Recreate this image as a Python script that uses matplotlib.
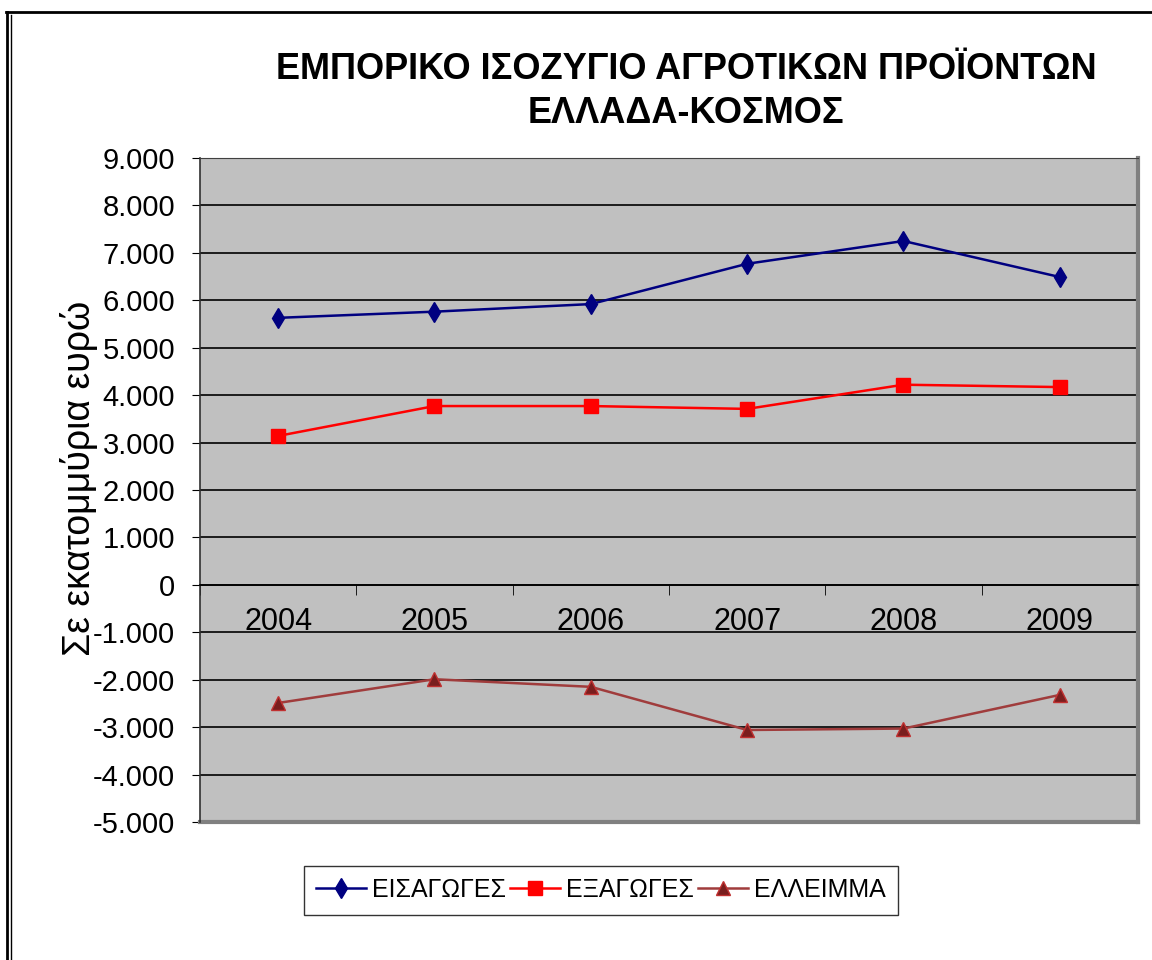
import matplotlib
matplotlib.use("Agg")
import matplotlib.pyplot as plt
from matplotlib.lines import Line2D
from matplotlib.ticker import FuncFormatter, MultipleLocator

plt.rcParams['font.family'] = ['Liberation Sans', 'DejaVu Sans']

# data (millions of euro)
years = ["2004", "2005", "2006", "2007", "2008", "2009"]
imports = [5630, 5760, 5920, 6770, 7250, 6490]
exports = [3140, 3770, 3770, 3710, 4220, 4170]
deficit = [-2490, -1990, -2150, -3060, -3030, -2320]

title = "ΕΜΠΟΡΙΚΟ ΙΣΟΖΥΓΙΟ ΑΓΡΟΤΙΚΩΝ ΠΡΟΪΟΝΤΩΝ\nΕΛΛΑΔΑ-ΚΟΣΜΟΣ"
ylabel = "Σε εκατομμύρια ευρώ"
labels = ["ΕΙΣΑΓΩΓΕΣ", "ΕΞΑΓΩΓΕΣ", "ΕΛΛΕΙΜΜΑ"]

fig = plt.figure(figsize=(11.52, 9.6), dpi=100)
ax = fig.add_axes([200/1152, 138/960, 938/1152, 664/960])
ax.set_facecolor("#C0C0C0")

x = list(range(len(years)))
ax.plot(x, imports, color="#000080", lw=1.8, marker="d", ms=10, label=labels[0])
ax.plot(x, exports, color="#FF0000", lw=1.8, marker="s", ms=10, label=labels[1])
ax.plot(x, deficit, color="#A03C3C", lw=1.8, marker="^", ms=10,
        mfc="#7A1E1E", mec="#C03030", label=labels[2])

ax.set_xlim(-0.5, len(years) - 0.5)
ax.set_ylim(-5000, 9000)
ax.yaxis.set_major_locator(MultipleLocator(1000))
ax.yaxis.set_major_formatter(FuncFormatter(lambda v, p: f"{int(v):,}".replace(",", ".")))
ax.grid(axis="y", color="black", lw=1.2)
ax.set_axisbelow(True)

# x axis crosses at zero
ax.spines["bottom"].set_position(("data", 0))
ax.spines["bottom"].set_color("black")
ax.spines["bottom"].set_linewidth(1.2)
ax.spines["top"].set_color("#404040")
ax.spines["right"].set_visible(False)
ax.spines["left"].set_color("#303030")
ax.spines["left"].set_linewidth(1.2)
ax.set_xticks(x)
ax.set_xticklabels(years)
ax.set_xticks([i - 0.5 for i in range(len(years) + 1)], minor=True)
ax.tick_params(axis="x", which="major", length=0, pad=16, labelsize=22)
ax.tick_params(axis="x", which="minor", length=7, direction="out", color="black")
ax.tick_params(axis="y", length=6, direction="out", pad=12, labelsize=21)

# plot-area shadow on right / bottom
ax.plot([1, 1], [0, 1], transform=ax.transAxes, color="#808080", lw=3, clip_on=False)
ax.plot([0, 1], [0, 0], transform=ax.transAxes, color="#808080", lw=3, clip_on=False)

ax.set_ylabel(ylabel, fontsize=27)
ax.yaxis.set_label_coords(-0.109, 0.518)

fig.text(0.5955, 0.905, title, ha="center", va="center", fontsize=26,
         fontweight="bold", linespacing=1.33)

fig.legend(loc="center", bbox_to_anchor=(601/1152, 1 - 890/960), ncol=3,
           fontsize=18, frameon=True, fancybox=False, edgecolor="black",
           handlelength=2.0, columnspacing=0.15, handletextpad=0.25,
           borderpad=0.5, borderaxespad=0).get_frame().set_linewidth(1.0)

# outer frame (top and double left line)
fig.add_artist(Line2D([6/1152, 1], [1 - 12/960] * 2, color="black", lw=2))
fig.add_artist(Line2D([7/1152] * 2, [0, 1 - 12/960], color="black", lw=2))
fig.add_artist(Line2D([11/1152] * 2, [0, 1 - 15/960], color="black", lw=1))

fig.savefig("out.png", dpi=100)
